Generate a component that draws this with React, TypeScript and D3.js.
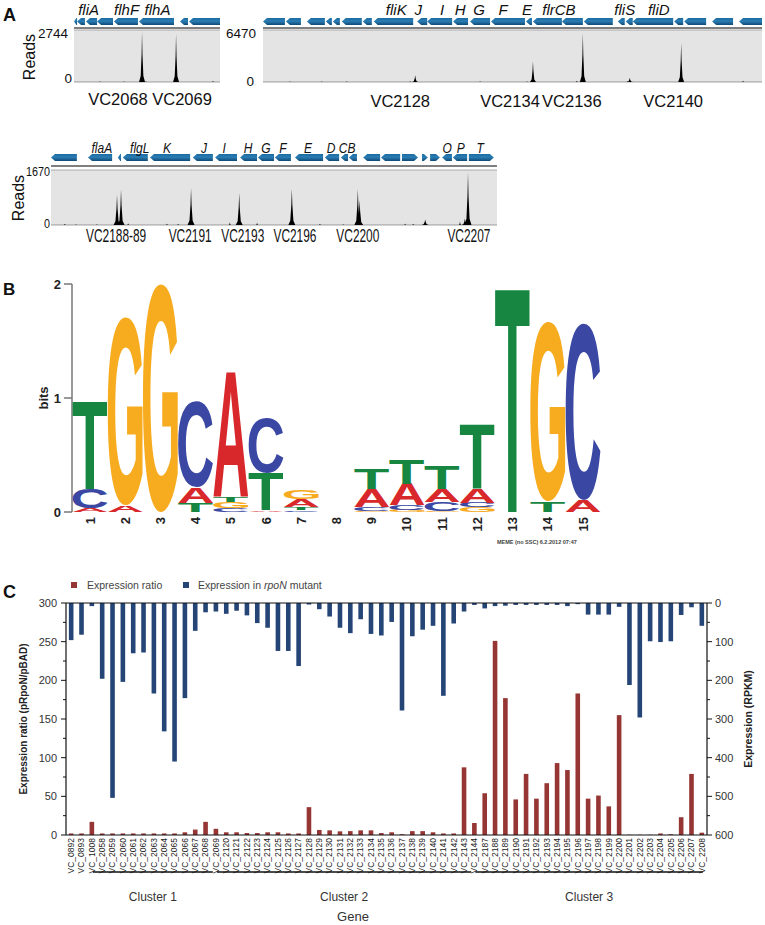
import React, { useMemo } from 'react';
import * as d3 from 'd3';

const FONT = "'Liberation Sans', Arial, Helvetica, sans-serif";

// ================= Panel A data (genomic position in % of window) =================
const track1Genes = [[0, 2.1, -1], [2.1, 7.5, -1], [8.2, 15.8, -1], [15.8, 26.7, -1], [27.4, 43.8, -1], [44.5, 68.5, -1], [72.6, 78.1, -1], [78.8, 100, -1]];
const track1GeneLabels = [['fliA', 10.0], ['flhF', 36.0], ['flhA', 57.2]];
const track1Peaks = [[46.6, 2640], [69.9, 2530]];
const track1Noise = [[17.8, 50], [34.2, 40], [49.3, 40], [71, 45], [95.2, 60]];
const track1PeakLabels = [['VC2068', 30.1], ['VC2069', 74.0]];
const track1Max = 2744;

const track2Genes = [[0, 4.4, -1], [4.6, 7.6, -1], [8.8, 12.4, -1], [12.6, 13.8, -1], [14.0, 15.4, -1], [15.8, 19.8, -1], [20.0, 21.8, -1], [22.2, 30.1, -1], [30.9, 32.9, -1], [32.9, 37.9, -1], [38.1, 41.1, -1], [41.5, 45.5, -1], [45.7, 52.5, -1], [52.7, 53.9, -1], [54.1, 59.9, -1], [59.9, 64.1, -1], [64.3, 70.1, -1], [71.1, 72.5, -1], [72.7, 74.1, -1], [74.1, 82.2, -1], [82.4, 84.2, -1], [84.4, 88.8, -1], [90.0, 94.2, -1], [95.4, 100, -1]];
const track2GeneLabels = [['fliK', 26.7], ['J', 31.1], ['I', 35.9], ['H', 39.5], ['G', 43.3], ['F', 48.1], ['E', 52.9], ['flrCB', 59.3], ['fliS', 72.5], ['fliD', 79.3]];
const track2Peaks = [[30.5, 840], [54.1, 2590], [64.1, 6080], [73.5, 520], [83.8, 4850]];
const track2Noise = [[5.4, 100], [11.8, 90], [16.8, 100], [29.5, 120], [43.5, 110], [52.9, 130], [62.9, 150], [73.0, 120], [96.2, 160]];
const track2PeakLabels = [['VC2128', 27.5], ['VC2134', 49.5], ['VC2136', 61.9], ['VC2140', 82.2]];
const track2Max = 6470;

const track3Genes = [[0, 5.8, -1], [8.3, 13.7, -1], [15.0, 15.7, -1], [16.1, 21.7, -1], [22.2, 31.2, -1], [31.8, 36.3, -1], [36.8, 41.7, -1], [42.4, 46.2, -1], [46.4, 50.0, -1], [50.2, 53.8, -1], [54.7, 61.0, -1], [61.4, 64.6, -1], [65.0, 66.6, -1], [66.8, 68.6, -1], [70.0, 73.8, -1], [74.0, 78.3, -1], [78.7, 82.3, 1], [83.2, 84.5, 1], [85.0, 87.2, 1], [87.7, 89.9, -1], [90.1, 93.3, -1], [93.7, 99.3, 1]];
const track3GeneLabels = [['flaA', 11.4], ['flgL', 19.9], ['K', 26.0], ['J', 34.3], ['I', 38.8], ['H', 44.2], ['G', 48.2], ['F', 52.0], ['E', 57.6], ['D', 62.8], ['CB', 66.4], ['O', 88.8], ['P', 91.9], ['T', 96.2]];
const track3Peaks = [[14.8, 920], [15.7, 1085], [31.4, 1120], [42.2, 970], [54.0, 1100], [68.8, 1085], [69.2, 760], [83.9, 170], [92.8, 200], [93.5, 1600]];
const track3Noise = [[3.1, 40], [5.6, 30], [10.3, 30], [17.3, 50], [26.0, 45], [28.5, 40], [40.1, 90], [46.2, 80], [60.3, 35], [65.5, 30], [79.4, 45], [81.2, 40], [91.7, 120]];
const track3PeakLabels = [['VC2188-89', 14.6], ['VC2191', 31.2], ['VC2193', 43.0], ['VC2196', 54.7], ['VC2200', 68.8], ['VC2207', 93.7]];
const track3Max = 1670;

// ================= Panel B data (sequence logo, bits, bottom -> top) =================
const logoPositions = ['1', '2', '3', '4', '5', '6', '7', '8', '9', '10', '11', '12', '13', '14', '15'];
const logoStacks = [
  [['A', 0.03], ['C', 0.17], ['T', 0.77]],
  [['A', 0.06], ['G', 1.65]],
  [['G', 2.0]],
  [['T', 0.08], ['A', 0.14], ['C', 0.75]],
  [['C', 0.03], ['G', 0.055], ['T', 0.045], ['A', 1.1]],
  [['A', 0.015], ['T', 0.33], ['C', 0.48]],
  [['C', 0.015], ['T', 0.025], ['A', 0.07], ['G', 0.08]],
  [],
  [['G', 0.01], ['C', 0.03], ['A', 0.16], ['T', 0.18]],
  [['G', 0.02], ['C', 0.04], ['A', 0.19], ['T', 0.22]],
  [['G', 0.01], ['C', 0.08], ['A', 0.11], ['T', 0.2]],
  [['G', 0.04], ['C', 0.04], ['A', 0.12], ['T', 0.57]],
  [['T', 1.98]],
  [['T', 0.09], ['G', 1.57]],
  [['A', 0.1], ['C', 1.55]],
];
const bitsTicks = [0, 1, 2];

// ================= Panel C data =================
const genes = ['VC_0892', 'VC_0893', 'VC_1008', 'VC_2058', 'VC_2059', 'VC_2060', 'VC_2061', 'VC_2062', 'VC_2063', 'VC_2064', 'VC_2065', 'VC_2066', 'VC_2067', 'VC_2068', 'VC_2069', 'VC_2120', 'VC_2121', 'VC_2122', 'VC_2123', 'VC_2124', 'VC_2125', 'VC_2126', 'VC_2127', 'VC_2128', 'VC_2129', 'VC_2130', 'VC_2131', 'VC_2132', 'VC_2133', 'VC_2134', 'VC_2135', 'VC_2136', 'VC_2137', 'VC_2138', 'VC_2139', 'VC_2140', 'VC_2141', 'VC_2142', 'VC_2143', 'VC_2144', 'VC_2187', 'VC_2188', 'VC_2189', 'VC_2190', 'VC_2191', 'VC_2192', 'VC_2193', 'VC_2194', 'VC_2195', 'VC_2196', 'VC_2197', 'VC_2198', 'VC_2199', 'VC_2200', 'VC_2201', 'VC_2202', 'VC_2203', 'VC_2204', 'VC_2205', 'VC_2206', 'VC_2207', 'VC_2208'];
const expressionRatio = [2, 2, 17, 2, 2, 2, 2, 2, 2, 2, 2, 3.5, 7, 17, 8, 3.5, 3.5, 2.5, 2.5, 3.5, 3.5, 2, 2, 36, 6.5, 6, 4.7, 5, 6, 6, 2.5, 3.5, 1, 5, 5, 3.5, 2, 2, 87.5, 15.5, 54, 251, 177, 46, 79, 47, 67, 93, 84, 183, 47, 51, 37, 155, 0.3, 0.3, 0.3, 2, 1, 23, 79, 3];
const rpoNExpression = [96, 82, 8, 196, 504, 204, 130, 128, 234, 332, 410, 246, 72, 24, 22, 28, 20, 32, 52, 64, 124, 124, 163, 4, 16, 35, 64, 78, 42, 80, 84, 49, 278, 86, 69, 59, 240, 53, 22, 5, 14, 8, 7, 5, 5, 5, 5, 5, 8, 3, 30, 30, 30, 10, 212, 296, 99, 101, 99, 31, 11, 59];
const ratioTicks = [0, 50, 100, 150, 200, 250, 300];
const rpkmTicks = [0, 100, 200, 300, 400, 500, 600];
const clusterNames = ['Cluster 1', 'Cluster 2', 'Cluster 3'];
const clusterFirst = ['VC_2058', 'VC_2120', 'VC_2187'];
const clusterLast = ['VC_2069', 'VC_2144', 'VC_2208'];

const LETTER_COLORS = { A: '#d8282b', C: '#3a48a4', G: '#f7ab1f', T: '#168641' };
const RED = '#953634';
const BLUE = '#254577';

function letterMetrics() {
  const out = {};
  try {
    const c = document.createElement('canvas');
    const ctx = c.getContext('2d');
    ctx.font = `bold 100px ${FONT}`;
    for (const L of ['A', 'C', 'G', 'T']) {
      const m = ctx.measureText(L);
      out[L] = { l: m.actualBoundingBoxLeft, r: m.actualBoundingBoxRight, a: m.actualBoundingBoxAscent, d: m.actualBoundingBoxDescent };
    }
  } catch (e) {
    for (const L of ['A', 'C', 'G', 'T']) out[L] = { l: 0, r: 70, a: 72, d: 0 };
  }
  return out;
}

function Track({ t }) {
  const L = t.layout;
  const x = d3.scaleLinear().domain([0, 100]).range([L.x0, L.x1]);
  const y = d3.scaleLinear().domain([0, t.maxReads]).range([L.boxBottom, L.boxTop]);
  const area = d3.area().x(d => d[0]).y0(y(0)).y1(d => y(d[1]));
  const spike = (pos, h, hw) => {
    const cx = x(pos);
    return area([[cx - hw, 0], [cx - hw * 0.45, h * 0.12], [cx - hw * 0.15, h * 0.55], [cx, h], [cx + hw * 0.15, h * 0.55], [cx + hw * 0.45, h * 0.12], [cx + hw, 0]]);
  };
  const aTop = L.arrowY, aBot = L.arrowY + 7, aMid = L.arrowY + 3.5;
  const arrow = (g) => {
    const a = x(g[0]), b = x(g[1]);
    const hl = Math.min(4, (b - a) * 0.8);
    if (g[2] < 0) return `M${a},${aMid}L${a + hl},${aTop}L${b},${aTop}L${b},${aBot}L${a + hl},${aBot}Z`;
    return `M${b},${aMid}L${b - hl},${aTop}L${a},${aTop}L${a},${aBot}L${b - hl},${aBot}Z`;
  };
  return (
    <g>
      {t.genes.map((g, i) => <path key={'g' + i} d={arrow(g)} fill="url(#geneGrad)" />)}
      {t.geneLabels.map((g, i) => (
        <text key={'gl' + i} transform={`translate(${x(g[1])},${L.geneLabelY}) scale(${L.geneSx},1)`} textAnchor="middle" fontStyle="italic" fontSize={L.geneFs} fill="#111">{g[0]}</text>
      ))}
      <line x1={L.x0} x2={L.x1} y1={L.lineY} y2={L.lineY} stroke="#555" strokeWidth={1.3} />
      <rect x={L.x0} y={L.boxTop} width={L.x1 - L.x0} height={L.boxBottom - L.boxTop} fill="#e4e4e4" />
      <line x1={L.x0} x2={L.x1} y1={L.boxTop} y2={L.boxTop} stroke="#9a9a9a" strokeWidth={0.8} />
      <line x1={L.x0} x2={L.x1} y1={L.boxBottom} y2={L.boxBottom} stroke="#444" strokeWidth={0.5} />
      {t.noise.map((p, i) => <path key={'n' + i} d={spike(p[0], p[1], 1.3)} fill="#111" />)}
      {t.peaks.map((p, i) => <path key={'p' + i} d={spike(p[0], p[1], L.peakHw)} fill="#000" />)}
      <text transform={`translate(${L.maxX},${L.maxY}) scale(${L.numSx},1)`} textAnchor="end" fontSize={L.numFs} fill="#111">{t.maxReads}</text>
      <text transform={`translate(${L.zeroX},${L.zeroY}) scale(${L.numSx},1)`} textAnchor="end" fontSize={L.numFs} fill="#111">0</text>
      {L.readsX != null && (
        <text transform={`translate(${L.readsX},${L.readsY}) rotate(-90)`} textAnchor="middle" fontSize={16} fill="#111">Reads</text>
      )}
      {t.peakLabels.map((p, i) => (
        <text key={'pl' + i} transform={`translate(${x(p[1])},${L.peakLabelY}) scale(${L.peakSx},1)`} textAnchor="middle" fontSize={L.peakFs} fill="#111">{p[0]}</text>
      ))}
    </g>
  );
}

export default function App() {
  const metrics = useMemo(() => letterMetrics(), []);

  const tracks = [
    { genes: track1Genes, geneLabels: track1GeneLabels, peaks: track1Peaks, noise: track1Noise, peakLabels: track1PeakLabels, maxReads: track1Max,
      layout: { x0: 74, x1: 220, arrowY: 18, lineY: 28, boxTop: 30, boxBottom: 82, geneLabelY: 15, geneFs: 15, geneSx: 1, peakLabelY: 105, peakFs: 16.5, peakSx: 1, maxX: 68, maxY: 38, zeroX: 72, zeroY: 83, numFs: 13.5, numSx: 1, readsX: 35, readsY: 57, peakHw: 3 } },
    { genes: track2Genes, geneLabels: track2GeneLabels, peaks: track2Peaks, noise: track2Noise, peakLabels: track2PeakLabels, maxReads: track2Max,
      layout: { x0: 263, x1: 762, arrowY: 18, lineY: 28, boxTop: 30, boxBottom: 82, geneLabelY: 15, geneFs: 15, geneSx: 1, peakLabelY: 107, peakFs: 16.5, peakSx: 1, maxX: 256, maxY: 38, zeroX: 254, zeroY: 86, numFs: 13.5, numSx: 1, readsX: null, readsY: 0, peakHw: 3 } },
    { genes: track3Genes, geneLabels: track3GeneLabels, peaks: track3Peaks, noise: track3Noise, peakLabels: track3PeakLabels, maxReads: track3Max,
      layout: { x0: 51, x1: 497, arrowY: 154, lineY: 166, boxTop: 170, boxBottom: 225, geneLabelY: 153, geneFs: 15, geneSx: 0.8, peakLabelY: 242, peakFs: 17.5, peakSx: 0.68, maxX: 50, maxY: 176, zeroX: 50, zeroY: 228, numFs: 12, numSx: 0.9, readsX: 24, readsY: 198, peakHw: 3.5 } },
  ];

  // ---------- Panel B ----------
  const bx = d3.scalePoint().domain(logoPositions).range([90, 583]);
  const by = d3.scaleLinear().domain([0, 2]).range([512, 284]);
  const colW = 35;
  const letters = [];
  logoStacks.forEach((stack, i) => {
    let acc = 0;
    const cx = bx(logoPositions[i]);
    stack.forEach(([L, h], j) => {
      const y0 = by(acc), y1 = by(acc + h);
      acc += h;
      const m = metrics[L];
      const w = m.l + m.r, hh = m.a + m.d;
      const sx = colW / w, sy = (y0 - y1) / hh;
      letters.push(
        <text key={`${i}-${j}`} x={m.l} y={-m.d} fontSize={100} fontWeight="bold" fill={LETTER_COLORS[L]}
          transform={`translate(${cx - colW / 2},${y0}) scale(${sx},${sy})`}>{L}</text>
      );
    });
  });

  // ---------- Panel C ----------
  const cx = d3.scalePoint().domain(genes).range([66, 707]).padding(0.5);
  const step = cx.step();
  const yL = d3.scaleLinear().domain([0, 300]).range([835, 603]);
  const yR = d3.scaleLinear().domain([0, 600]).range([603, 835]);
  const barW = 4.6;
  const minorL = d3.range(25, 300, 50);
  const minorR = d3.range(50, 600, 100);

  return (
    <svg width={765} height={925} style={{ position: 'absolute', left: 0, top: 0, background: '#fff' }} fontFamily={FONT}>
      <defs>
        <linearGradient id="geneGrad" x1="0" y1="0" x2="0" y2="1">
          <stop offset="0" stopColor="#1b6ba1" />
          <stop offset="0.45" stopColor="#2a7db4" />
          <stop offset="1" stopColor="#0e4a76" />
        </linearGradient>
      </defs>

      {/* Panel A */}
      <text x={3} y={21} fontSize={18} fontWeight="bold" fill="#111">A</text>
      {tracks.map((t, i) => <Track key={i} t={t} />)}

      {/* Panel B */}
      <text x={3} y={295} fontSize={17} fontWeight="bold" fill="#111">B</text>
      <line x1={72} x2={72} y1={by(2)} y2={by(0)} stroke="#777" strokeWidth={1.5} />
      {bitsTicks.map(v => (
        <g key={v}>
          <line x1={64} x2={72} y1={by(v)} y2={by(v)} stroke="#777" strokeWidth={1.5} />
          <text x={61} y={by(v) + 4.5} textAnchor="end" fontSize={13} fontWeight="bold" fill="#222">{v}</text>
        </g>
      ))}
      <text transform={`translate(48,${by(1)}) rotate(-90)`} textAnchor="middle" fontSize={13} fontWeight="bold" fill="#222">bits</text>
      {letters}
      {logoPositions.map(p => (
        <text key={p} transform={`translate(${bx(p) + 4.5},517) rotate(-90)`} textAnchor="end" fontSize={13} fontWeight="bold" fill="#222">{p}</text>
      ))}
      <text x={497} y={544} fontSize={5.5} fontWeight="bold" fill="#444">MEME (no SSC) 6.2.2012 07:47</text>

      {/* Panel C */}
      <text x={3} y={598} fontSize={18} fontWeight="bold" fill="#111">C</text>
      <rect x={71} y={582} width={6} height={6} fill={RED} />
      <text x={87} y={589} fontSize={10.5} fill="#444">Expression ratio</text>
      <rect x={183} y={582} width={6} height={6} fill={BLUE} />
      <text x={198} y={589} fontSize={10.5} fill="#444">Expression in <tspan fontStyle="italic">rpoN</tspan> mutant</text>

      {genes.map((g, i) => (
        <rect key={'b' + g} x={cx(g) - barW / 2} y={yR(0)} width={barW} height={yR(rpoNExpression[i]) - yR(0)} fill={BLUE} />
      ))}
      {genes.map((g, i) => (
        <rect key={'r' + g} x={cx(g) - barW / 2} y={yL(expressionRatio[i])} width={barW} height={yL(0) - yL(expressionRatio[i])} fill={RED} />
      ))}

      {/* axes */}
      <line x1={66} x2={707} y1={603} y2={603} stroke="#111" strokeWidth={1.2} />
      <line x1={66} x2={707} y1={835} y2={835} stroke="#111" strokeWidth={1.2} />
      <line x1={66} x2={66} y1={603} y2={835} stroke="#111" strokeWidth={1.2} />
      <line x1={707} x2={707} y1={603} y2={835} stroke="#111" strokeWidth={1.2} />
      {ratioTicks.map(v => (
        <g key={'lt' + v}>
          <line x1={61} x2={66} y1={yL(v)} y2={yL(v)} stroke="#111" strokeWidth={1} />
          <text x={57} y={yL(v) + 4} textAnchor="end" fontSize={11} fill="#333">{v}</text>
        </g>
      ))}
      {minorL.map(v => <line key={'lm' + v} x1={63} x2={66} y1={yL(v)} y2={yL(v)} stroke="#111" strokeWidth={1} />)}
      {rpkmTicks.map(v => (
        <g key={'rt' + v}>
          <line x1={707} x2={712} y1={yR(v)} y2={yR(v)} stroke="#111" strokeWidth={1} />
          <text x={715} y={yR(v) + 4} textAnchor="start" fontSize={11} fill="#333">{v}</text>
        </g>
      ))}
      {minorR.map(v => <line key={'rm' + v} x1={707} x2={710} y1={yR(v)} y2={yR(v)} stroke="#111" strokeWidth={1} />)}
      <text transform="translate(27,719) rotate(-90)" textAnchor="middle" fontSize={10} fontWeight="bold" fill="#222">Expression ratio (pRpoN/pBAD)</text>
      <text transform="translate(752,719) rotate(-90)" textAnchor="middle" fontSize={10.5} fontWeight="bold" fill="#222">Expression (RPKM)</text>

      {genes.map(g => (
        <text key={'xl' + g} transform={`translate(${cx(g) + 2.8},838) rotate(-90)`} textAnchor="end" fontSize={8.5} fill="#222">{g}</text>
      ))}
      {clusterNames.map((n, i) => {
        const a = cx(clusterFirst[i]) - step * 0.9;
        const b = cx(clusterLast[i]) - step * (i === 2 ? -0.1 : 0.3);
        return (
          <g key={n}>
            <line x1={a} x2={b} y1={872} y2={872} stroke="#111" strokeWidth={1.5} />
            <text x={(a + b) / 2} y={901} textAnchor="middle" fontSize={12} fill="#333">{n}</text>
          </g>
        );
      })}
      <text x={353} y={921} textAnchor="middle" fontSize={13} fill="#333">Gene</text>
    </svg>
  );
}
